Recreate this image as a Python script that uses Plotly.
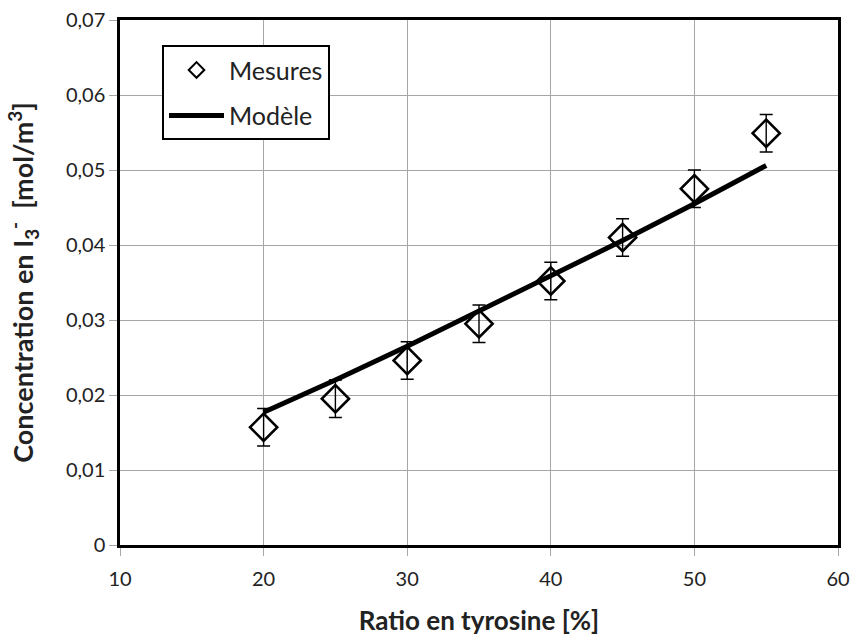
import plotly.graph_objects as go

ratio = [20, 25, 30, 35, 40, 45, 50, 55]
mesures = [0.0157, 0.0195, 0.0246, 0.0295, 0.0352, 0.0410, 0.0475, 0.0549]
erreur = [0.0025, 0.0025, 0.0025, 0.0025, 0.0025, 0.0025, 0.0025, 0.0025]
modele = [0.0177, 0.0220, 0.0265, 0.0312, 0.0358, 0.0406, 0.0455, 0.0506]

x_ticks = [10, 20, 30, 40, 50, 60]
y_ticks = [0, 0.01, 0.02, 0.03, 0.04, 0.05, 0.06, 0.07]
y_ticklabels = ["0", "0,01", "0,02", "0,03", "0,04", "0,05", "0,06", "0,07"]

FONT = "Lato, 'Open Sans', sans-serif"

fig = go.Figure()
fig.add_trace(go.Scatter(
    x=ratio, y=mesures, mode="markers", name="Mesures", legendgroup="a",
    marker=dict(symbol="diamond-open", size=21, color="black", line=dict(width=2.5, color="black")),
    error_y=dict(type="data", array=erreur, color="black", thickness=1.4, width=6.5),
))
fig.add_trace(go.Scatter(
    x=ratio, y=modele, mode="lines", name="Modèle", legendgroup="b",
    line=dict(color="black", width=5),
))

fig.update_layout(
    width=856, height=639,
    margin=dict(l=120, r=18, t=20, b=94, autoexpand=False),
    paper_bgcolor="white", plot_bgcolor="white",
    font=dict(family=FONT, size=20, color="#222"),
    showlegend=True,
    legend=dict(
        x=0.0585, y=0.952, xanchor="left", yanchor="top",
        bordercolor="black", borderwidth=2, bgcolor="white",
        font=dict(family=FONT, size=25, color="#222"),
        itemwidth=55, tracegroupgap=10, traceorder="grouped",
        itemsizing="constant",
    ),
    xaxis=dict(
        range=[10, 60], tickvals=x_ticks, ticktext=[str(v) for v in x_ticks],
        tickfont=dict(size=20), ticklabelstandoff=6,
        showgrid=True, gridcolor="#a6a6a6", gridwidth=1.3,
        ticks="outside", ticklen=8, tickcolor="#a6a6a6",
        showline=True, linecolor="black", linewidth=2.5, mirror=True,
        zeroline=False,
        title=dict(text="<b>Ratio en tyrosine [%]</b>", standoff=24,
                   font=dict(family=FONT, size=26, color="#222")),
    ),
    yaxis=dict(
        range=[0, 0.07], tickvals=y_ticks, ticktext=y_ticklabels,
        tickfont=dict(size=20),
        showgrid=True, gridcolor="#a6a6a6", gridwidth=1.3,
        ticks="outside", ticklen=8, tickcolor="#a6a6a6",
        showline=True, linecolor="black", linewidth=2.5, mirror=True,
        zeroline=False,
        title=dict(text="<b>Concentration en I<sub>3</sub><sup>-</sup>  [mol/m<sup>3</sup>]</b>", standoff=25,
                   font=dict(family=FONT, size=27, color="#222")),
    ),
)

fig.write_html("out.html", config={"displayModeBar": False},
               post_script="document.body.style.margin='0';")
